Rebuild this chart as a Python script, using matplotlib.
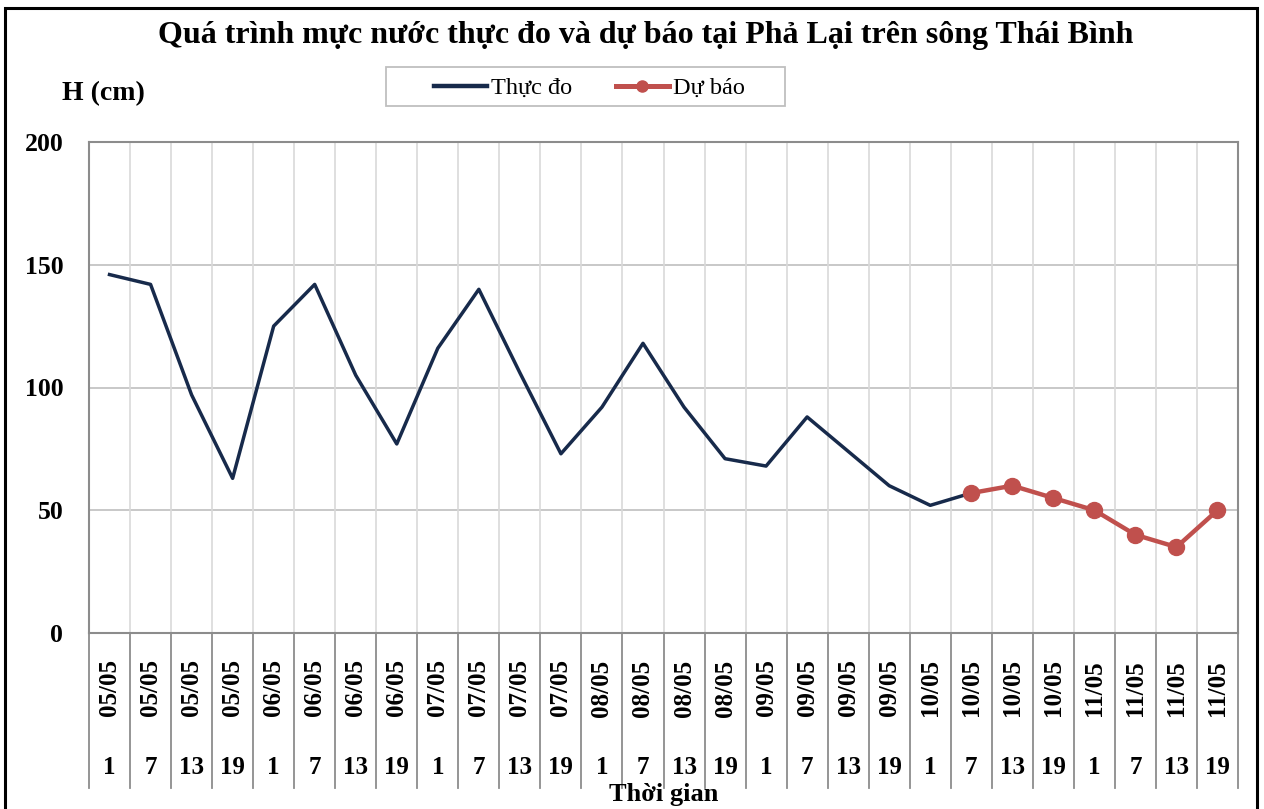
import matplotlib
matplotlib.use("Agg")
import matplotlib.pyplot as plt
from matplotlib.lines import Line2D
from matplotlib.patches import Rectangle
import matplotlib.transforms as mtransforms

plt.rcParams['font.family'] = ['Liberation Serif', 'DejaVu Serif']

dates = ["05/05"] * 4 + ["06/05"] * 4 + ["07/05"] * 4 + ["08/05"] * 4 + \
        ["09/05"] * 4 + ["10/05"] * 4 + ["11/05"] * 4
hours = ["1", "7", "13", "19"] * 7

observed = [146, 142, 97, 63, 125, 142, 105, 77, 116, 140, 106, 73,
            92, 118, 92, 71, 68, 88, 74, 60, 52, 57]
forecast = [57, 60, 55, 50, 40, 35, 50]
forecast_start = 21

title = "Quá trình mực nước thực đo và dự báo tại Phả Lại trên sông Thái Bình"
ylabel = "H (cm)"
xlabel = "Thời gian"
yticks = [0, 50, 100, 150, 200]

W, H = 1264, 809
fig = plt.figure(figsize=(W / 100, H / 100), dpi=100)
fig.patch.set_facecolor("white")

def fx(px):
    return px / W

def fy(py):
    return 1 - py / H

left, right, top, bottom = 89, 1238, 142, 633
ax = fig.add_axes([fx(left), fy(bottom), fx(right - left), (bottom - top) / H])

n = len(dates)
xs_obs = list(range(len(observed)))
xs_fc = list(range(forecast_start, forecast_start + len(forecast)))

ax.plot(xs_obs, observed, color="#172a4b", lw=2.5, zorder=3)
ax.plot(xs_fc, forecast, color="#c0504d", lw=3.2, marker="o", markersize=11.5,
        zorder=4)

ax.set_xlim(-0.5, n - 0.5)
ax.set_ylim(0, 200)
ax.set_yticks(yticks)
ax.set_yticklabels([str(v) for v in yticks], fontsize=18.5, fontweight="bold")
ax.tick_params(axis="y", length=0, pad=18.5)
ax.set_xticks([])

for v in yticks[1:]:
    ax.axhline(v, color="#bfbfbf", lw=1.2, zorder=1)
for k in range(n - 1):
    ax.axvline(k + 0.5, color="#d9d9d9", lw=1.2, zorder=1)

for s in ax.spines.values():
    s.set_color("#8c8c8c")
    s.set_linewidth(1.5)

trans = mtransforms.blended_transform_factory(ax.transData, ax.transAxes)
sep_bottom = -(788 - bottom) / (bottom - top)
for k in range(n + 1):
    ax.plot([k - 0.5, k - 0.5], [0, sep_bottom], transform=trans,
            color="#8c8c8c", lw=1.3, clip_on=False)

date_y = -(688 - bottom) / (bottom - top)
hour_y = -(768 - bottom) / (bottom - top)
for i in range(n):
    ax.text(i, date_y, dates[i], transform=trans, rotation=90, ha="center",
            va="center", fontsize=18, fontweight="bold")
    ax.text(i, hour_y, hours[i], transform=trans, ha="center", va="center",
            fontsize=18, fontweight="bold")

fig.text(fx(646), fy(36), title, ha="center", va="center", fontsize=23,
         fontweight="bold")
fig.text(fx(62), fy(94), ylabel, ha="left", va="center", fontsize=20,
         fontweight="bold")
fig.text(fx(664), fy(795), xlabel, ha="center", va="center", fontsize=19,
         fontweight="bold")

# legend frame
fig.patches.append(Rectangle((fx(386), fy(106)), fx(785 - 386), (106 - 67) / H,
                             transform=fig.transFigure, fill=False,
                             edgecolor="#bfbfbf", lw=1.3))
handles = [Line2D([], [], color="#172a4b", lw=3.2),
           Line2D([], [], color="#c0504d", lw=3.6, marker="o", markersize=8)]
leg = fig.legend(handles, ["Thực đo", "Dự báo"], loc="center",
                 bbox_to_anchor=(fx(589), fy(88)), ncol=2, fontsize=17.5,
                 frameon=False, handlelength=2.2, handletextpad=0.15,
                 columnspacing=1.8, borderpad=0.2)

fig.patches.append(Rectangle((fx(5), fy(815)), fx(1252), (815 - 8) / H,
                             transform=fig.transFigure, fill=False,
                             edgecolor="black", lw=2.2))

fig.savefig("out.png", dpi=100, facecolor="white")
